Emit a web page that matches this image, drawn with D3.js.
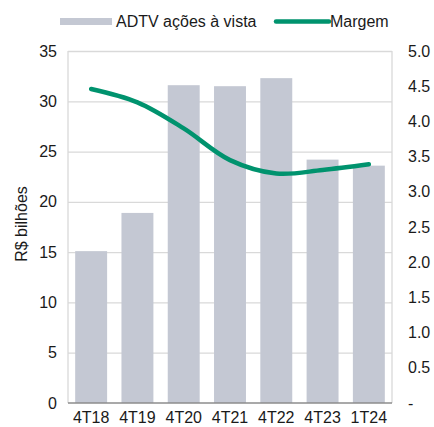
<!DOCTYPE html>
<html>
<head>
<meta charset="utf-8">
<script src="https://d3js.org/d3.v7.min.js"></script>
<style>
  html, body { margin: 0; padding: 0; background: #fff; }
  svg { display: block; font-family: "Liberation Sans", Arial, sans-serif; }
</style>
</head>
<body>
<svg id="chart" width="434" height="427"></svg>
<script>
// data
var categories = ["4T18", "4T19", "4T20", "4T21", "4T22", "4T23", "1T24"];
var adtv = [15.1, 18.9, 31.6, 31.5, 32.3, 24.2, 23.6];
var margem = [4.46, 4.27, 3.9, 3.45, 3.26, 3.31, 3.39];
var leftTicks = [0, 5, 10, 15, 20, 25, 30, 35];
var rightTicks = [0, 0.5, 1, 1.5, 2, 2.5, 3, 3.5, 4, 4.5, 5];

var svg = d3.select("#chart");
var pLeft = 68, pRight = 392, pTop = 51, pBottom = 403;

var x = d3.scaleBand().domain(categories).range([pLeft, pRight]).paddingInner(0.31).paddingOuter(0.155);
var y = d3.scaleLinear().domain([0, 35]).range([pBottom, pTop]);
var y2 = d3.scaleLinear().domain([0, 5]).range([pBottom, pTop]);

// grid
svg.append("g")
  .attr("transform", "translate(" + pLeft + ",0)")
  .call(d3.axisLeft(y).tickValues(leftTicks.slice(1)).tickSize(-(pRight - pLeft)).tickFormat(""))
  .call(g => g.select(".domain").remove())
  .call(g => g.selectAll("line").attr("stroke", "#d9d9d9").attr("stroke-width", 1.3));

// side frame lines
svg.append("line").attr("x1", pLeft).attr("x2", pLeft).attr("y1", pTop).attr("y2", pBottom).attr("stroke", "#d9d9d9").attr("stroke-width", 1.3);
svg.append("line").attr("x1", pRight).attr("x2", pRight).attr("y1", pTop).attr("y2", pBottom).attr("stroke", "#d9d9d9").attr("stroke-width", 1.3);

// bars
svg.selectAll("rect.bar")
  .data(adtv)
  .enter()
  .append("rect")
  .attr("class", "bar")
  .attr("x", (d, i) => x(categories[i]))
  .attr("width", x.bandwidth())
  .attr("y", d => y(d))
  .attr("height", d => y(0) - y(d))
  .attr("fill", "#c4c8d3");

// baseline
svg.append("line").attr("x1", pLeft).attr("x2", pRight).attr("y1", pBottom).attr("y2", pBottom).attr("stroke", "#8c8c8c").attr("stroke-width", 1.3);

// line
var line = d3.line()
  .x((d, i) => x(categories[i]) + x.bandwidth() / 2)
  .y(d => y2(d))
  .curve(d3.curveCatmullRom.alpha(0.5));

svg.append("path")
  .datum(margem)
  .attr("d", line)
  .attr("fill", "none")
  .attr("stroke", "#00936e")
  .attr("stroke-width", 4.5)
  .attr("stroke-linecap", "round");

function styleText(g) {
  g.selectAll("text").attr("font-size", 16).attr("fill", "#1a1a1a").attr("font-family", "Liberation Sans, Arial, sans-serif");
}

// left axis
svg.append("g")
  .attr("transform", "translate(" + pLeft + ",0)")
  .call(d3.axisLeft(y).tickValues(leftTicks).tickSize(0).tickPadding(11))
  .call(g => g.select(".domain").remove())
  .call(styleText);

// right axis
svg.append("g")
  .attr("transform", "translate(" + pRight + ",0)")
  .call(d3.axisRight(y2).tickValues(rightTicks).tickSize(0).tickPadding(16)
    .tickFormat(d => d === 0 ? "-" : d3.format(".1f")(d)))
  .call(g => g.select(".domain").remove())
  .call(styleText);

// x axis
svg.append("g")
  .attr("transform", "translate(0," + pBottom + ")")
  .call(d3.axisBottom(x).tickSize(0).tickPadding(9))
  .call(g => g.select(".domain").remove())
  .call(styleText);

// y title
svg.append("text")
  .attr("transform", "translate(27,224) rotate(-90)")
  .attr("text-anchor", "middle")
  .attr("font-size", 16)
  .attr("fill", "#1a1a1a")
  .text("R$ bilhões");

// legend
svg.append("rect").attr("x", 60).attr("y", 18).attr("width", 52).attr("height", 7).attr("fill", "#c4c8d3");
svg.append("text").attr("x", 116).attr("y", 27).attr("font-size", 16).attr("fill", "#1a1a1a").text("ADTV ações à vista");
svg.append("line").attr("x1", 276).attr("x2", 329).attr("y1", 21.5).attr("y2", 21.5)
  .attr("stroke", "#00936e").attr("stroke-width", 4.5).attr("stroke-linecap", "round");
svg.append("text").attr("x", 330).attr("y", 27).attr("font-size", 16).attr("fill", "#1a1a1a").text("Margem");
</script>
</body>
</html>
